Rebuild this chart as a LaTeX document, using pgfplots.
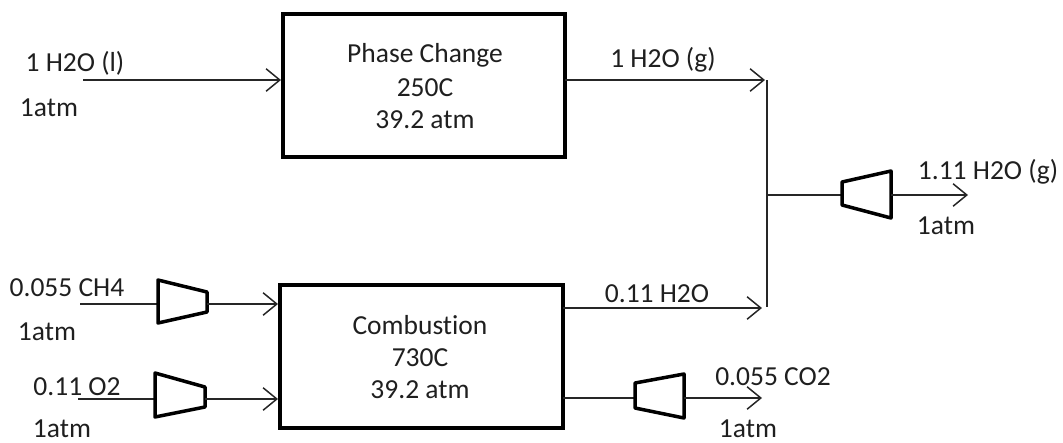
\documentclass[border=0pt]{standalone}
\usepackage{pgfplots}
\pgfplotsset{compat=1.18}
\usepackage{fontspec}
\setmainfont{Carlito}[Ligatures={NoCommon}]
\usetikzlibrary{arrows.meta}
\begin{document}
\begin{tikzpicture}[
  lbl/.style={font=\fontsize{11pt}{13pt}\selectfont, text=black!88, inner sep=0pt, anchor=center},
  arr/.style={line width=0.6pt, black!85, -{Straight Barb[length=5.5pt,width=9pt,line width=0.6pt]}},
  thin/.style={line width=0.6pt, black!85},
  box/.style={line width=1.7pt, black, line join=miter},
  comp/.style={line width=1.4pt, black, line join=round},
]
\begin{axis}[
  scale only axis, width=425.2pt, height=176.8pt,
  xmin=0, xmax=1063, ymin=0, ymax=442, y dir=reverse,
  axis lines=none, clip=false,
]
\addplot[draw=none] coordinates {(0,0) (1063,442)};
% boxes
\addplot[box] coordinates {(283,14) (565,14) (565,157) (283,157) (283,14) (565,14)};
\addplot[box] coordinates {(280,285) (563,285) (563,428) (280,428) (280,285) (563,285)};
% top inlet
\addplot[arr] coordinates {(83,80) (281,80)};
% top outlet
\addplot[arr] coordinates {(565,80) (765,80)};
% bottom outlet H2O
\addplot[arr] coordinates {(563,308) (762,308)};
% merge vertical line
\addplot[thin] coordinates {(767,80) (767,307)};
% to final compressor
\addplot[thin] coordinates {(767,195) (842,195)};
\addplot[comp] coordinates {(842,182) (891,171) (891,218) (842,205) (842,182) (891,171)};
\addplot[arr] coordinates {(891,195) (968,195)};
% CH4 inlet
\addplot[thin] coordinates {(80,304) (158,304)};
\addplot[comp] coordinates {(158,280) (207,292) (207,312) (158,323) (158,280) (207,292)};
\addplot[arr] coordinates {(207,304) (278,304)};
% O2 inlet
\addplot[thin] coordinates {(78,399) (155,399)};
\addplot[comp] coordinates {(155,373) (205,387) (205,407) (155,417) (155,373) (205,387)};
\addplot[arr] coordinates {(205,399) (278,399)};
% CO2 outlet
\addplot[thin] coordinates {(563,398) (635,398)};
\addplot[comp] coordinates {(635,383) (684,374) (684,418) (635,408) (635,383) (684,374)};
\addplot[arr] coordinates {(684,398) (762,398)};
% labels
\node[lbl] at (axis cs:75,63) {1 H2O (l)};
\node[lbl] at (axis cs:49,108) {1atm};
\node[lbl] at (axis cs:425,55) {Phase Change};
\node[lbl] at (axis cs:425,88) {250C};
\node[lbl] at (axis cs:425,120) {39.2 atm};
\node[lbl] at (axis cs:663,60) {1 H2O (g)};
\node[lbl] at (axis cs:988,172) {1.11 H2O (g)};
\node[lbl] at (axis cs:946,226) {1atm};
\node[lbl] at (axis cs:657,294) {0.11 H2O};
\node[lbl] at (axis cs:420,325) {Combustion};
\node[lbl] at (axis cs:420,358) {730C};
\node[lbl] at (axis cs:420,390) {39.2 atm};
\node[lbl] at (axis cs:67,288) {0.055 CH4};
\node[lbl] at (axis cs:47,332) {1atm};
\node[lbl] at (axis cs:77,387) {0.11 O2};
\node[lbl] at (axis cs:62,429) {1atm};
\node[lbl] at (axis cs:773,377) {0.055 CO2};
\node[lbl] at (axis cs:748,429) {1atm};
\end{axis}
\end{tikzpicture}
\end{document}
